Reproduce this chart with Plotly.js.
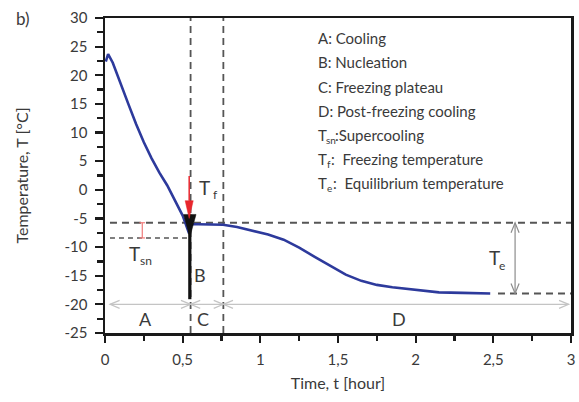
<!DOCTYPE html>
<html>
<head>
<meta charset="utf-8">
<script src="https://cdn.plot.ly/plotly-3.0.1.min.js"></script>
<style>html,body{margin:0;padding:0;background:#fff;}#chart{width:579px;height:402px;}</style>
</head>
<body>
<div id="chart"></div>
<script>
// ---- data ----
const timeHours = [0.005, 0.02, 0.05, 0.1, 0.15, 0.2, 0.25, 0.3, 0.35, 0.4, 0.45, 0.5, 0.541, 0.556, 0.6, 0.68, 0.76, 0.85, 0.95, 1.05, 1.15, 1.25, 1.35, 1.45, 1.55, 1.65, 1.75, 1.85, 2.0, 2.15, 2.3, 2.48];
const temperature = [22.4, 23.7, 22.2, 18.5, 15.0, 11.5, 8.3, 5.5, 3.0, 0.8, -1.8, -4.5, -7.6, -6.0, -6.0, -6.0, -6.1, -6.5, -7.1, -7.8, -8.7, -10.1, -11.7, -13.3, -14.8, -15.9, -16.6, -17.0, -17.5, -17.9, -18.0, -18.1];
const yTickVals = [-25, -20, -15, -10, -5, 0, 5, 10, 15, 20, 25, 30];
const yTickText = ["-25", "-20", "-15", "-10", "-5", "0", "5", "10", "15", "20", "25", "30"];
const xTickVals = [0, 0.5, 1, 1.5, 2, 2.5, 3];
const xTickText = ["0", "0,5", "1", "1,5", "2", "2,5", "3"];
const phaseLabels = ["A", "C", "D"];
const legendPlain = ["A: Cooling", "B: Nucleation", "C: Freezing plateau", "D: Post-freezing cooling"];
const legendSymbolSubs = ["sn", "f", "e"];
const legendSymbolText = [":Supercooling", ":\u00a0\u00a0Freezing temperature", ":\u00a0\u00a0Equilibrium temperature"];
// key levels / times
const tNucleation = 0.551, tFreezeEnd = 0.762;
const TfLevel = -5.75, TsnLevel = -8.4, TeLevel = -18.1;

// ---- pixel helpers (plot area: x 105..571, y 18..333) ----
const PX0 = 105, PXW = 466, PY0 = 18, PYH = 315;
const X = px => (px - PX0) / PXW * 3;
const Y = py => 30 - (py - PY0) / PYH * 55;

// ---- styling ----
const txtColor = '#3a3a3a';
const dashGray = '#555555';
const font = 'Lato, "Open Sans", sans-serif';

const trace = {
  x: timeHours, y: temperature, type: 'scatter', mode: 'lines',
  line: {color: '#2d3a9c', width: 2.6}, hoverinfo: 'skip', showlegend: false
};

const shapes = [
  {type:'line', xref:'x', yref:'y', x0:tNucleation, x1:tNucleation, y0:-25, y1:30, line:{color:dashGray, width:1.8, dash:'7px,5px'}, layer:'below'},
  {type:'line', xref:'x', yref:'y', x0:tFreezeEnd, x1:tFreezeEnd, y0:-25, y1:30, line:{color:dashGray, width:1.8, dash:'7px,5px'}, layer:'below'},
  {type:'line', xref:'x', yref:'y', x0:0.032, x1:3, y0:TfLevel, y1:TfLevel, line:{color:dashGray, width:1.8, dash:'7px,5px'}, layer:'below'},
  {type:'line', xref:'x', yref:'y', x0:0.032, x1:0.55, y0:TsnLevel, y1:TsnLevel, line:{color:dashGray, width:1.5, dash:'5px,4px'}, layer:'below'},
  {type:'line', xref:'x', yref:'y', x0:2.53, x1:3, y0:TeLevel, y1:TeLevel, line:{color:dashGray, width:1.8, dash:'7px,5px'}, layer:'below'},
  // Tsn red bar
  {type:'line', xref:'x', yref:'y', x0:0.24, x1:0.24, y0:TfLevel, y1:TsnLevel, line:{color:'#f07a7a', width:1.2}},
  {type:'line', xref:'x', yref:'y', x0:0.222, x1:0.258, y0:TfLevel, y1:TfLevel, line:{color:'#f07a7a', width:1.2}},
  {type:'line', xref:'x', yref:'y', x0:0.222, x1:0.258, y0:TsnLevel, y1:TsnLevel, line:{color:'#f07a7a', width:1.2}}
];

// nucleation arrow (black, up) and freezing arrow (red, down)
const arrX = 0.546;
const bTail = -19.1, bTip = -8.3, bHead = 4.0, bHalf = 0.04;
shapes.push({type:'line', xref:'x', yref:'y', x0:arrX, x1:arrX, y0:bTail, y1:bTip + bHead, line:{color:'#111', width:3.2}});
shapes.push({type:'path', xref:'x', yref:'y',
  path:`M ${arrX - bHalf},${bTip + bHead} L ${arrX},${bTip} L ${arrX + bHalf},${bTip + bHead} Z`,
  fillcolor:'#111', line:{color:'#111', width:0.5}});
const rX = arrX - 0.004;
const rTail = 2.4, rTip = -5.0, rHead = 3.1, rHalf = 0.026;
shapes.push({type:'line', xref:'x', yref:'y', x0:rX, x1:rX, y0:rTail, y1:rTip + rHead, line:{color:'#e8262d', width:1.5}});
shapes.push({type:'path', xref:'x', yref:'y',
  path:`M ${rX - rHalf},${rTip + rHead} L ${rX},${rTip} L ${rX + rHalf},${rTip + rHead} Z`,
  fillcolor:'#e8262d', line:{color:'#e8262d', width:0.5}});

// double-headed guide arrows (line + open chevrons)
const hLen = 0.062, hHalfY = 0.7;
const vLen = 1.75, vHalfX = 0.026;
function hDblArrow(x0, x1, y, color) {
  shapes.push({type:'line', xref:'x', yref:'y', x0:x0, x1:x1, y0:y, y1:y, line:{color:color, width:1.2}});
  shapes.push({type:'path', xref:'x', yref:'y', path:`M ${x0 + hLen},${y + hHalfY} L ${x0},${y} L ${x0 + hLen},${y - hHalfY}`, line:{color:color, width:1.2}});
  shapes.push({type:'path', xref:'x', yref:'y', path:`M ${x1 - hLen},${y + hHalfY} L ${x1},${y} L ${x1 - hLen},${y - hHalfY}`, line:{color:color, width:1.2}});
}
function vDblArrow(x, y0, y1, color) {
  shapes.push({type:'line', xref:'x', yref:'y', x0:x, x1:x, y0:y0, y1:y1, line:{color:color, width:1.2}});
  shapes.push({type:'path', xref:'x', yref:'y', path:`M ${x - vHalfX},${y0 - vLen} L ${x},${y0} L ${x + vHalfX},${y0 - vLen}`, line:{color:color, width:1.2}});
  shapes.push({type:'path', xref:'x', yref:'y', path:`M ${x - vHalfX},${y1 + vLen} L ${x},${y1} L ${x + vHalfX},${y1 + vLen}`, line:{color:color, width:1.2}});
}
hDblArrow(0.032, tNucleation, -20, '#c4c4c4');
hDblArrow(tNucleation, tFreezeEnd, -20, '#c4c4c4');
hDblArrow(tFreezeEnd, 2.985, -20, '#c4c4c4');
vDblArrow(2.64, TfLevel, TeLevel, '#8c8c8c');

// ---- text labels (positions given in pixels, converted to axis units) ----
const annotations = [];
function label(text, px, py, size, xanchor) {
  annotations.push({x:X(px), y:Y(py), xref:'x', yref:'y', text:text, showarrow:false,
    xanchor:xanchor || 'center', yanchor:'middle', font:{family:font, size:size, color:txtColor}});
}
const phasePx = [145, 203, 399];
phaseLabels.forEach((p, i) => label(p, phasePx[i], 319, 18));
label('B', 200, 275, 18);
// T_f
label('T', 204, 187, 19); label('f', 210.5, 194, 12, 'left');
// T_sn
label('T', 134, 253, 19); label('sn', 146, 260, 12);
// T_e
label('T', 494, 257.5, 19); label('e', 501.5, 265, 12);

// legend block
const legendY = [38.3, 62.4, 86.5, 110.6, 134.7, 158.8, 182.9];
legendPlain.forEach((t, i) => label(t, 316, legendY[i], 15, 'left'));
const subX = [323.5, 325, 324.5];
const restX = [332.5, 328.5, 330.5];
legendSymbolSubs.forEach((s, i) => {
  const py = legendY[4 + i];
  label('T', 316, py, 15, 'left');
  label(s, subX[i], py + 5.5, 10, 'left');
  label(legendSymbolText[i], restX[i], py, 15, 'left');
});

annotations.push({xref:'paper', yref:'paper', x:-0.196, y:1.0, xanchor:'left', yanchor:'middle',
  text:'b)', showarrow:false, font:{family:font, size:17, color:txtColor}});

const axisCommon = {
  showgrid:false, zeroline:false, showline:true, linecolor:'#1a1a1a', linewidth:2.5, mirror:true,
  ticks:'outside', tickcolor:'#1a1a1a', tickwidth:2.2, ticklen:8,
  tickfont:{family:font, size:15, color:txtColor}, fixedrange:true
};

const layout = {
  width:579, height:402,
  margin:{l:105, r:8, t:18, b:69, pad:0},
  paper_bgcolor:'#fff', plot_bgcolor:'#fff',
  font:{family:font, color:txtColor},
  xaxis: Object.assign({}, axisCommon, {
    range:[0, 3], tickmode:'array', tickvals:xTickVals, ticktext:xTickText, ticklen:7,
    ticklabelstandoff:4,
    minor:{dtick:0.25, tick0:0, ticks:'outside', ticklen:5, tickwidth:2.2, tickcolor:'#1a1a1a'},
    title:{text:'Time, t [hour]', font:{family:font, size:16, color:txtColor}, standoff:12}
  }),
  yaxis: Object.assign({}, axisCommon, {
    range:[-25, 30], tickmode:'array', tickvals:yTickVals, ticktext:yTickText,
    ticklabelstandoff:4,
    minor:{dtick:2.5, tick0:0, ticks:'outside', ticklen:6, tickwidth:2.2, tickcolor:'#1a1a1a'},
    title:{text:'Temperature, T [°C]', font:{family:font, size:16, color:txtColor}, standoff:32}
  }),
  shapes:shapes,
  annotations:annotations,
  showlegend:false
};

Plotly.newPlot('chart', [trace], layout, {staticPlot:true, displayModeBar:false});
</script>
</body>
</html>
